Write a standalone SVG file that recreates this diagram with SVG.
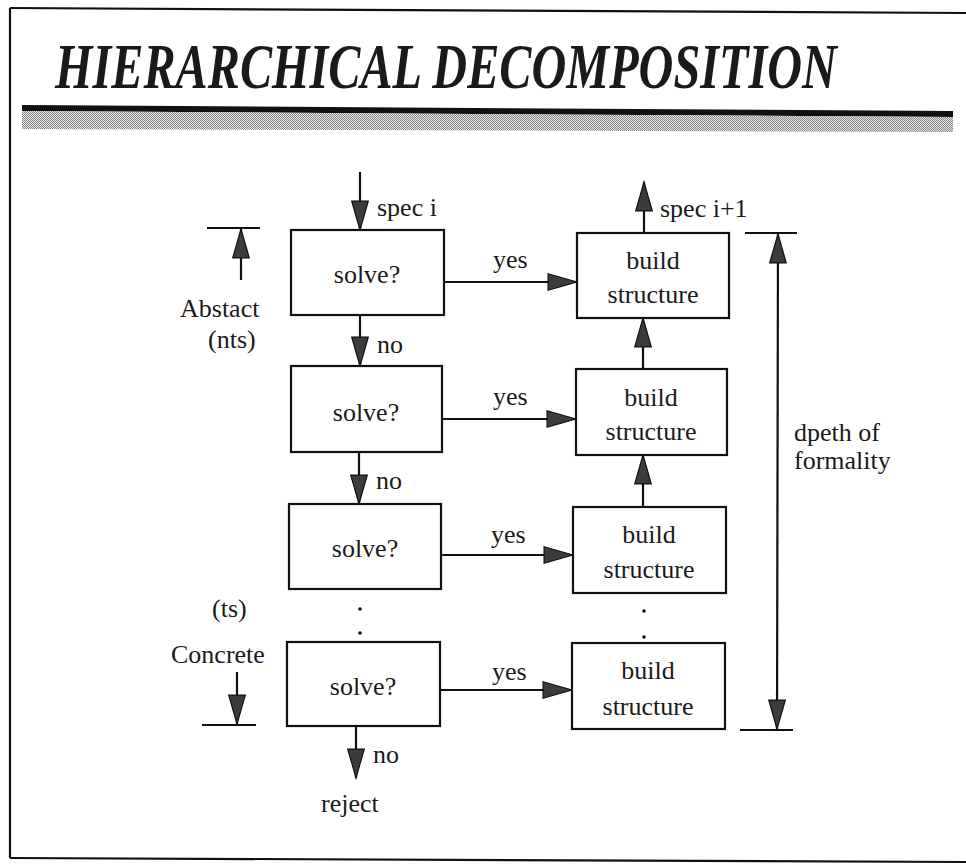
<svg xmlns="http://www.w3.org/2000/svg" width="966" height="868" viewBox="0 0 966 868">
<defs>
<style>
.t{font-family:"Liberation Serif","Times New Roman",serif;font-size:26px;fill:#1a1a1a}
.c{text-anchor:middle}
.box{fill:#fff;stroke:#111;stroke-width:2.2}
.ln{stroke:#111;stroke-width:2.2;fill:none}
.ar{stroke:#111;stroke-width:2.2;fill:none;marker-end:url(#ah)}
.dot{fill:#111}
</style>
<marker id="ah" markerUnits="userSpaceOnUse" markerWidth="32" markerHeight="20" viewBox="-1 -1 31 19" refX="28" refY="8" orient="auto-start-reverse">
<path d="M0,0 L28,8 L0,16 Z" fill="#3c3c3c" stroke="#111" stroke-width="1.2"/>
</marker>
<pattern id="hatch" width="2" height="2" patternUnits="userSpaceOnUse">
<rect width="2" height="2" fill="#e4e4e4"/>
<rect width="1" height="1" fill="#888"/>
<rect x="1" y="1" width="1" height="1" fill="#888"/>
</pattern>
</defs>
<rect width="966" height="868" fill="#fff"/>
<g id="frame">
<path d="M10,8 L966,13" class="ln" stroke-width="2.5"/>
<path d="M10,8 L10,858" class="ln" stroke-width="2.5"/>
<path d="M10,858 L966,862" class="ln" stroke-width="3"/>
</g>
<g id="title">
<text transform="scale(0.73 1)" x="75.34" y="88" font-family="'Liberation Serif','Times New Roman',serif" font-size="63" font-weight="bold" font-style="italic" fill="#1a1a1a" textLength="1071" lengthAdjust="spacingAndGlyphs">HIERARCHICAL DECOMPOSITION</text>
<polygon points="22,105 953,111 953,117 22,111" fill="#111"/>
<polygon points="22,111 953,117 953,132 22,129" fill="url(#hatch)"/>
</g>
<g id="connectors">
<path class="ar" d="M360,172 L360,230"/>
<path class="ar" d="M360,315 L360,366"/>
<path class="ar" d="M359,452 L359,504"/>
<path class="ar" d="M356,726 L356,778"/>
<path class="ar" d="M444,282 L577,282"/>
<path class="ar" d="M442,419 L576,419"/>
<path class="ar" d="M441,555 L573,555"/>
<path class="ar" d="M440,690 L572,690"/>
<path class="ar" d="M643,369 L643,318"/>
<path class="ar" d="M643,507 L643,455"/>
<path class="ar" d="M644,233 L644,182"/>
</g>
<g id="abstract-marker">
<path class="ln" d="M207,228 L260,228"/>
<path class="ar" d="M241,280 L241,229"/>
<text class="t" x="180" y="317">Abstact</text>
<text class="t" x="208" y="348">(nts)</text>
</g>
<g id="concrete-marker">
<text class="t" x="212" y="617">(ts)</text>
<text class="t" x="171" y="663">Concrete</text>
<path class="ar" d="M237,672 L237,724"/>
<path class="ln" d="M202,725 L256,725"/>
</g>
<g id="depth-marker">
<path class="ln" d="M745,233 L797,233"/>
<path class="ln" d="M740,730 L793,730"/>
<path d="M778,234 L777,729" class="ln" marker-start="url(#ah)" marker-end="url(#ah)"/>
<text class="t" x="794" y="441" font-size="25">dpeth of</text>
<text class="t" x="794" y="469" font-size="25">formality</text>
</g>
<g id="solve1"><rect class="box" x="291" y="230" width="153" height="85"/><text class="t c" x="367" y="283">solve?</text></g>
<g id="solve2"><rect class="box" x="291" y="366" width="151" height="86"/><text class="t c" x="366" y="421">solve?</text></g>
<g id="solve3"><rect class="box" x="289" y="504" width="152" height="85"/><text class="t c" x="365" y="557">solve?</text></g>
<g id="solve4"><rect class="box" x="287" y="642" width="153" height="84"/><text class="t c" x="363" y="695">solve?</text></g>
<g id="build1"><rect class="box" x="577" y="233" width="152" height="85"/><text class="t c" x="653" y="269">build</text><text class="t c" x="653" y="303">structure</text></g>
<g id="build2"><rect class="box" x="576" y="369" width="151" height="86"/><text class="t c" x="651" y="406">build</text><text class="t c" x="651" y="440">structure</text></g>
<g id="build3"><rect class="box" x="573" y="507" width="153" height="86"/><text class="t c" x="649" y="543">build</text><text class="t c" x="649" y="578">structure</text></g>
<g id="build4"><rect class="box" x="572" y="643" width="153" height="86"/><text class="t c" x="648" y="679">build</text><text class="t c" x="648" y="715">structure</text></g>
<g id="labels">
<text class="t" x="377" y="216">spec i</text>
<text class="t" x="660" y="217">spec i+1</text>
<text class="t" x="377" y="353">no</text>
<text class="t" x="376" y="489">no</text>
<text class="t" x="373" y="763">no</text>
<text class="t" x="493" y="268">yes</text>
<text class="t" x="493" y="405">yes</text>
<text class="t" x="491" y="543">yes</text>
<text class="t" x="492" y="680">yes</text>
<text class="t" x="321" y="812">reject</text>
</g>
<g id="ellipsis">
<circle class="dot" cx="360" cy="609" r="1.8"/>
<circle class="dot" cx="360" cy="633" r="1.8"/>
<circle class="dot" cx="644" cy="611" r="1.8"/>
<circle class="dot" cx="644" cy="637" r="1.8"/>
</g>
</svg>
